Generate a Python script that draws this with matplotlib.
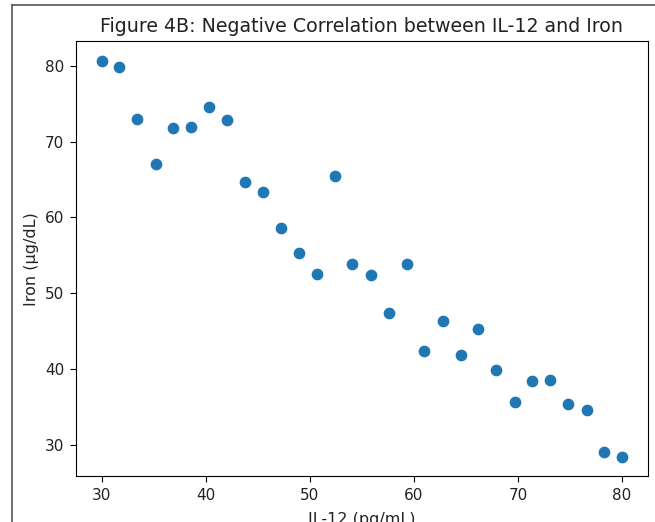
import matplotlib.pyplot as plt
from matplotlib.lines import Line2D

# valores
il12 = [30.0, 31.7, 33.4, 35.2, 36.9, 38.6, 40.3, 42.1, 43.8, 45.5,
        47.2, 49.0, 50.7, 52.4, 54.1, 55.9, 57.6, 59.3, 61.0, 62.8,
        64.5, 66.2, 67.9, 69.7, 71.4, 73.1, 74.8, 76.6, 78.3, 80.0]
iron = [80.6, 79.8, 73.0, 67.0, 71.8, 71.9, 74.6, 72.8, 64.6, 63.3,
        58.6, 55.3, 52.5, 65.4, 53.8, 52.4, 47.4, 53.8, 42.4, 46.3,
        41.8, 45.2, 39.9, 35.6, 38.4, 38.5, 35.4, 34.5, 29.0, 28.4]

fig = plt.figure(figsize=(6.55, 5.22), dpi=100)
ax = fig.add_axes([0.1153, 0.0872, 0.874, 0.8333])

ax.scatter(il12, iron, s=55, color="#1f77b4")

ax.set_title("Figure 4B: Negative Correlation between IL-12 and Iron", fontsize=13.7, pad=7, color="#222222")
ax.set_xlabel("IL-12 (pg/mL)", fontsize=11.5, labelpad=7, color="#222222")
ax.set_ylabel("Iron (µg/dL)", fontsize=11.5, color="#222222")
ax.tick_params(labelsize=11, length=4.5, labelcolor="#222222")

# borde de la captura
fig.add_artist(Line2D([11.5 / 655, 11.5 / 655], [0, 1 - 5 / 522], color="#555555", lw=1.2))
fig.add_artist(Line2D([11.5 / 655, 1], [1 - 5 / 522, 1 - 5 / 522], color="#555555", lw=1.2))

fig.savefig("out.png", dpi=100)
